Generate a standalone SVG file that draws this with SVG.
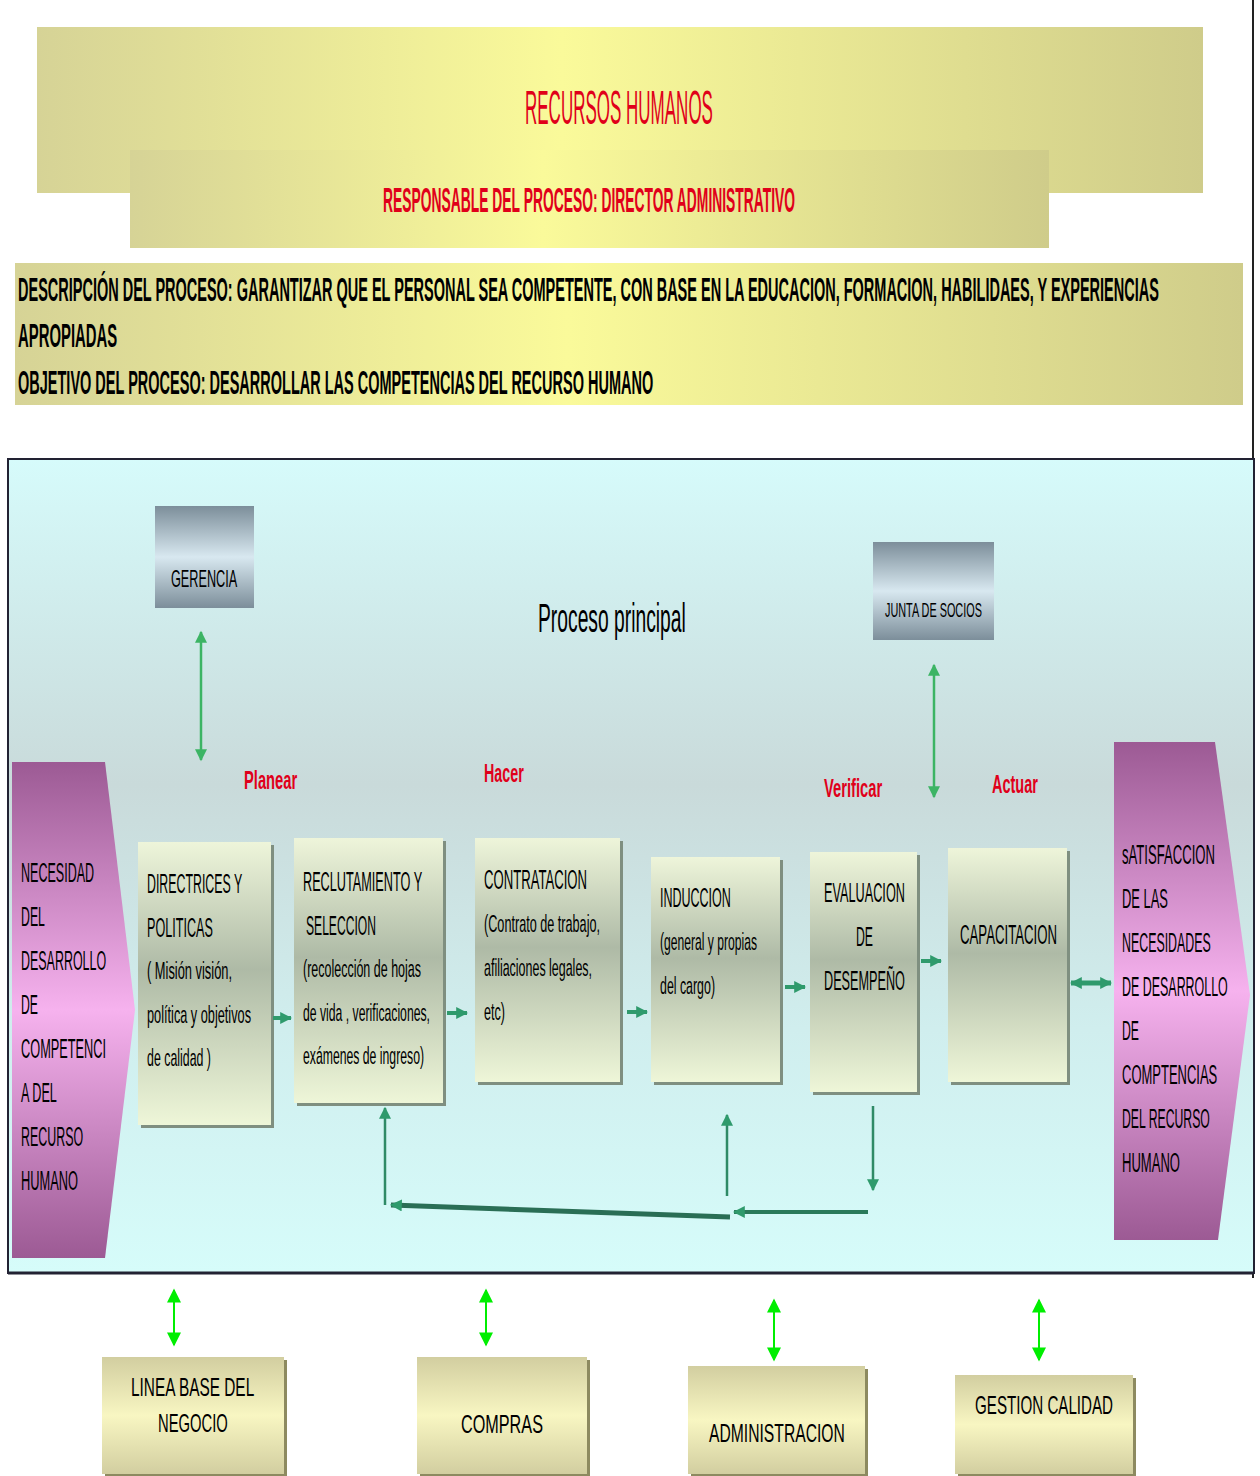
<svg xmlns="http://www.w3.org/2000/svg" width="1260" height="1476" viewBox="0 0 1260 1476">
<style>
.t{font-family:"Liberation Sans",Arial,sans-serif;fill:#000}
.red{fill:#e0001a}
.b{font-weight:bold}
.fb{stroke:#2f8a66;stroke-width:2.5;fill:none}
</style>
<defs>
<linearGradient id="gY" x1="0" y1="0" x2="1" y2="0">
<stop offset="0" stop-color="#d6d396"/><stop offset="0.45" stop-color="#fafa9a"/><stop offset="1" stop-color="#cfcc8a"/>
</linearGradient>
<linearGradient id="gBg" x1="0" y1="0" x2="0" y2="1">
<stop offset="0" stop-color="#d6fbfb"/><stop offset="0.4" stop-color="#c9dada"/><stop offset="0.7" stop-color="#d0eeee"/><stop offset="1" stop-color="#d6fcfa"/>
</linearGradient>
<linearGradient id="gBox" x1="0" y1="0" x2="0" y2="1">
<stop offset="0" stop-color="#eef5da"/><stop offset="0.45" stop-color="#aebaa6"/><stop offset="1" stop-color="#eef6d8"/>
</linearGradient>
<linearGradient id="gGray" x1="0" y1="0" x2="0" y2="1">
<stop offset="0" stop-color="#7c8e9a"/><stop offset="0.5" stop-color="#d8e8f0"/><stop offset="1" stop-color="#7c8e9a"/>
</linearGradient>
<linearGradient id="gOl" x1="0" y1="0" x2="0" y2="1">
<stop offset="0" stop-color="#d2cea0"/><stop offset="0.5" stop-color="#f8f6c2"/><stop offset="1" stop-color="#d2cea0"/>
</linearGradient>
<linearGradient id="gPur" x1="0" y1="0" x2="0" y2="1">
<stop offset="0" stop-color="#9c5a94"/><stop offset="0.5" stop-color="#f6b2ee"/><stop offset="1" stop-color="#9c5a94"/>
</linearGradient>
<marker id="ah" viewBox="0 0 10 10" refX="9" refY="5" markerWidth="12" markerHeight="12" markerUnits="userSpaceOnUse" orient="auto-start-reverse">
<path d="M0,0 L10,5 L0,10 z" fill="#2f9a6c"/>
</marker>
<marker id="ahg" viewBox="0 0 10 10" refX="9" refY="5" markerWidth="14" markerHeight="12" markerUnits="userSpaceOnUse" orient="auto-start-reverse">
<path d="M0,0 L10,5 L0,10 z" fill="#3cb464"/>
</marker>
<marker id="ahl" viewBox="0 0 10 10" refX="9" refY="5" markerWidth="16" markerHeight="14" markerUnits="userSpaceOnUse" orient="auto-start-reverse">
<path d="M0,0 L10,5 L0,10 z" fill="#00ee00"/>
</marker>
</defs>

<rect width="1260" height="1476" fill="#fff"/>
<line x1="1253" y1="0" x2="1253" y2="1278" stroke="#222" stroke-width="2"/>

<g id="header">
<rect x="37" y="27" width="1166" height="166" fill="url(#gY)"/>
<rect x="130" y="150" width="919" height="98" fill="url(#gY)"/>
<text class="t red" transform="translate(525,124) scale(0.35,1)" font-size="48" textLength="537" lengthAdjust="spacingAndGlyphs">RECURSOS HUMANOS</text>
<text class="t red b" transform="translate(383,212) scale(0.375,1)" font-size="36" textLength="1099" lengthAdjust="spacingAndGlyphs">RESPONSABLE DEL PROCESO: DIRECTOR ADMINISTRATIVO</text>
</g>
<g id="descripcion">
<rect x="15" y="263" width="1228" height="142" fill="url(#gY)"/>
<text class="t b" transform="translate(18,301) scale(0.4,1)" font-size="33" textLength="2852" lengthAdjust="spacingAndGlyphs">DESCRIPCIÓN DEL PROCESO:  GARANTIZAR QUE EL PERSONAL SEA COMPETENTE, CON BASE EN LA EDUCACION, FORMACION, HABILIDAES, Y EXPERIENCIAS</text>
<text class="t b" transform="translate(18,347) scale(0.4,1)" font-size="33" textLength="248" lengthAdjust="spacingAndGlyphs">APROPIADAS</text>
<text class="t b" transform="translate(18,394) scale(0.4,1)" font-size="33" textLength="1588" lengthAdjust="spacingAndGlyphs">OBJETIVO DEL  PROCESO:  DESARROLLAR LAS COMPETENCIAS DEL RECURSO HUMANO</text>
</g>

<rect x="8" y="459" width="1246" height="814" fill="url(#gBg)" stroke="#223" stroke-width="2"/>
<line x1="8" y1="1273" x2="1254" y2="1273" stroke="#223" stroke-width="3"/>

<text class="t" transform="translate(538,632) scale(0.48,1)" font-size="40" textLength="308" lengthAdjust="spacingAndGlyphs">Proceso principal</text>
<text class="t red b" transform="translate(244,789) scale(0.56,1)" font-size="26" textLength="95" lengthAdjust="spacingAndGlyphs">Planear</text>
<text class="t red b" transform="translate(484,782) scale(0.56,1)" font-size="26" textLength="71" lengthAdjust="spacingAndGlyphs">Hacer</text>
<text class="t red b" transform="translate(824,797) scale(0.56,1)" font-size="26" textLength="104" lengthAdjust="spacingAndGlyphs">Verificar</text>
<text class="t red b" transform="translate(992,793) scale(0.56,1)" font-size="26" textLength="82" lengthAdjust="spacingAndGlyphs">Actuar</text>

<g id="gerencia">
<rect x="155" y="506" width="99" height="102" fill="url(#gGray)"/>
<text class="t" transform="translate(171,587) scale(0.53,1)" font-size="24" textLength="125" lengthAdjust="spacingAndGlyphs">GERENCIA</text>
</g>
<g id="junta">
<rect x="873" y="542" width="121" height="98" fill="url(#gGray)"/>
<text class="t" transform="translate(885,617) scale(0.51,1)" font-size="20" textLength="190" lengthAdjust="spacingAndGlyphs">JUNTA DE SOCIOS</text>
</g>

<g id="necesidad">
<path d="M12,762 L105,762 L135,1010 L105,1258 L12,1258 Z" fill="url(#gPur)"/>
<g class="t" font-size="27">
<text transform="translate(21,882) scale(0.46,1)" textLength="159" lengthAdjust="spacingAndGlyphs">NECESIDAD</text>
<text transform="translate(21,926) scale(0.46,1)" textLength="52" lengthAdjust="spacingAndGlyphs">DEL</text>
<text transform="translate(21,970) scale(0.46,1)" textLength="185" lengthAdjust="spacingAndGlyphs">DESARROLLO</text>
<text transform="translate(21,1014) scale(0.46,1)" textLength="37" lengthAdjust="spacingAndGlyphs">DE</text>
<text transform="translate(21,1058) scale(0.46,1)" textLength="185" lengthAdjust="spacingAndGlyphs">COMPETENCI</text>
<text transform="translate(21,1102) scale(0.46,1)" textLength="78" lengthAdjust="spacingAndGlyphs">A DEL</text>
<text transform="translate(21,1146) scale(0.46,1)" textLength="135" lengthAdjust="spacingAndGlyphs">RECURSO</text>
<text transform="translate(21,1190) scale(0.46,1)" textLength="124" lengthAdjust="spacingAndGlyphs">HUMANO</text>
</g>
</g>

<g id="satisfaccion">
<path d="M1114,742 L1215,742 L1250,995 L1218,1240 L1114,1240 Z" fill="url(#gPur)"/>
<g class="t" font-size="27">
<text transform="translate(1122,864) scale(0.46,1)" textLength="202" lengthAdjust="spacingAndGlyphs">sATISFACCION</text>
<text transform="translate(1122,908) scale(0.46,1)" textLength="100" lengthAdjust="spacingAndGlyphs">DE LAS</text>
<text transform="translate(1122,952) scale(0.46,1)" textLength="193" lengthAdjust="spacingAndGlyphs">NECESIDADES</text>
<text transform="translate(1122,996) scale(0.46,1)" textLength="230" lengthAdjust="spacingAndGlyphs">DE DESARROLLO</text>
<text transform="translate(1122,1040) scale(0.46,1)" textLength="37" lengthAdjust="spacingAndGlyphs">DE</text>
<text transform="translate(1122,1084) scale(0.46,1)" textLength="207" lengthAdjust="spacingAndGlyphs">COMPTENCIAS</text>
<text transform="translate(1122,1128) scale(0.46,1)" textLength="191" lengthAdjust="spacingAndGlyphs">DEL RECURSO</text>
<text transform="translate(1122,1172) scale(0.46,1)" textLength="126" lengthAdjust="spacingAndGlyphs">HUMANO</text>
</g>
</g>

<g id="directrices">
<rect x="141" y="845" width="133" height="283" fill="#7f8f80"/>
<rect x="138" y="842" width="133" height="283" fill="url(#gBox)"/>
<g class="t">
<text transform="translate(147,893) scale(0.46,1)" font-size="27" textLength="207" lengthAdjust="spacingAndGlyphs">DIRECTRICES Y</text>
<text transform="translate(147,937) scale(0.46,1)" font-size="27" textLength="143" lengthAdjust="spacingAndGlyphs">POLITICAS</text>
<text transform="translate(147,979) scale(0.5,1)" font-size="24" textLength="170" lengthAdjust="spacingAndGlyphs">( Misión visión,</text>
<text transform="translate(147,1023) scale(0.5,1)" font-size="24" textLength="208" lengthAdjust="spacingAndGlyphs">política y objetivos</text>
<text transform="translate(147,1066) scale(0.5,1)" font-size="24" textLength="128" lengthAdjust="spacingAndGlyphs">de calidad  )</text>
</g>
</g>

<g id="reclutamiento">
<rect x="297" y="841" width="149" height="265" fill="#7f8f80"/>
<rect x="294" y="838" width="149" height="265" fill="url(#gBox)"/>
<g class="t">
<text transform="translate(303,891) scale(0.46,1)" font-size="27" textLength="259" lengthAdjust="spacingAndGlyphs">RECLUTAMIENTO Y</text>
<text transform="translate(306,935) scale(0.46,1)" font-size="27" textLength="152" lengthAdjust="spacingAndGlyphs">SELECCION</text>
<text transform="translate(303,977) scale(0.5,1)" font-size="24" textLength="236" lengthAdjust="spacingAndGlyphs">(recolección de hojas</text>
<text transform="translate(303,1021) scale(0.5,1)" font-size="24" textLength="254" lengthAdjust="spacingAndGlyphs">de vida , verificaciones,</text>
<text transform="translate(303,1064) scale(0.5,1)" font-size="24" textLength="242" lengthAdjust="spacingAndGlyphs">exámenes de ingreso)</text>
</g>
</g>

<g id="contratacion">
<rect x="478" y="841" width="145" height="244" fill="#7f8f80"/>
<rect x="475" y="838" width="145" height="244" fill="url(#gBox)"/>
<g class="t">
<text transform="translate(484,889) scale(0.46,1)" font-size="27" textLength="224" lengthAdjust="spacingAndGlyphs">CONTRATACION</text>
<text transform="translate(484,932) scale(0.5,1)" font-size="24" textLength="232" lengthAdjust="spacingAndGlyphs">(Contrato de trabajo,</text>
<text transform="translate(484,976) scale(0.5,1)" font-size="24" textLength="216" lengthAdjust="spacingAndGlyphs">afiliaciones legales,</text>
<text transform="translate(484,1020) scale(0.5,1)" font-size="24" textLength="42" lengthAdjust="spacingAndGlyphs">etc)</text>
</g>
</g>

<g id="induccion">
<rect x="654" y="860" width="129" height="225" fill="#7f8f80"/>
<rect x="651" y="857" width="129" height="225" fill="url(#gBox)"/>
<g class="t">
<text transform="translate(660,907) scale(0.46,1)" font-size="27" textLength="154" lengthAdjust="spacingAndGlyphs">INDUCCION</text>
<text transform="translate(660,950) scale(0.5,1)" font-size="24" textLength="194" lengthAdjust="spacingAndGlyphs">(general y propias</text>
<text transform="translate(660,994) scale(0.5,1)" font-size="24" textLength="110" lengthAdjust="spacingAndGlyphs">del cargo)</text>
</g>
</g>

<g id="evaluacion">
<rect x="813" y="855" width="107" height="240" fill="#7f8f80"/>
<rect x="810" y="852" width="107" height="240" fill="url(#gBox)"/>
<g class="t" font-size="27">
<text transform="translate(824,902) scale(0.46,1)" textLength="176" lengthAdjust="spacingAndGlyphs">EVALUACION</text>
<text transform="translate(856,946) scale(0.46,1)" textLength="37" lengthAdjust="spacingAndGlyphs">DE</text>
<text transform="translate(824,990) scale(0.46,1)" textLength="176" lengthAdjust="spacingAndGlyphs">DESEMPEÑO</text>
</g>
</g>

<g id="capacitacion">
<rect x="951" y="851" width="119" height="234" fill="#7f8f80"/>
<rect x="948" y="848" width="119" height="234" fill="url(#gBox)"/>
<text class="t" transform="translate(960,944) scale(0.46,1)" font-size="27" textLength="211" lengthAdjust="spacingAndGlyphs">CAPACITACION</text>
</g>

<g id="linea">
<rect x="105" y="1360" width="182" height="116" fill="#8d8a60"/>
<rect x="102" y="1357" width="182" height="117" fill="url(#gOl)"/>
<text class="t" transform="translate(131,1396) scale(0.55,1)" font-size="26" textLength="224" lengthAdjust="spacingAndGlyphs">LINEA BASE DEL</text>
<text class="t" transform="translate(158,1432) scale(0.55,1)" font-size="26" textLength="127" lengthAdjust="spacingAndGlyphs">NEGOCIO</text>
</g>
<g id="compras">
<rect x="420" y="1360" width="170" height="116" fill="#8d8a60"/>
<rect x="417" y="1357" width="170" height="117" fill="url(#gOl)"/>
<text class="t" transform="translate(461,1433) scale(0.55,1)" font-size="26" textLength="149" lengthAdjust="spacingAndGlyphs">COMPRAS</text>
</g>
<g id="administracion">
<rect x="691" y="1369" width="177" height="107" fill="#8d8a60"/>
<rect x="688" y="1366" width="177" height="108" fill="url(#gOl)"/>
<text class="t" transform="translate(709,1442) scale(0.55,1)" font-size="26" textLength="247" lengthAdjust="spacingAndGlyphs">ADMINISTRACION</text>
</g>
<g id="gestion">
<rect x="958" y="1378" width="178" height="98" fill="#8d8a60"/>
<rect x="955" y="1375" width="178" height="99" fill="url(#gOl)"/>
<text class="t" transform="translate(975,1414) scale(0.55,1)" font-size="26" textLength="251" lengthAdjust="spacingAndGlyphs">GESTION CALIDAD</text>
</g>

<g id="connectors">
<line x1="201" y1="632" x2="201" y2="760" stroke="#3cb464" stroke-width="2.5" marker-start="url(#ahg)" marker-end="url(#ahg)"/>
<line x1="934" y1="665" x2="934" y2="797" stroke="#3cb464" stroke-width="2.5" marker-start="url(#ahg)" marker-end="url(#ahg)"/>
<line x1="273" y1="1018" x2="291" y2="1018" stroke="#2f9a6c" stroke-width="4" marker-end="url(#ah)"/>
<line x1="447" y1="1013" x2="467" y2="1013" stroke="#2f9a6c" stroke-width="4" marker-end="url(#ah)"/>
<line x1="627" y1="1012" x2="647" y2="1012" stroke="#2f9a6c" stroke-width="4" marker-end="url(#ah)"/>
<line x1="785" y1="987" x2="805" y2="987" stroke="#2f9a6c" stroke-width="4" marker-end="url(#ah)"/>
<line x1="921" y1="961" x2="941" y2="961" stroke="#2f9a6c" stroke-width="4" marker-end="url(#ah)"/>
<line x1="1071" y1="983" x2="1111" y2="983" stroke="#2f9a6c" stroke-width="5" marker-start="url(#ah)" marker-end="url(#ah)"/>
<line x1="873" y1="1106" x2="873" y2="1190" class="fb" marker-end="url(#ah)"/>
<line x1="868" y1="1212" x2="734" y2="1212" stroke="#2a7a5a" stroke-width="4" marker-end="url(#ah)"/>
<line x1="727" y1="1196" x2="727" y2="1115" class="fb" marker-end="url(#ah)"/>
<line x1="730" y1="1217" x2="391" y2="1205" stroke="#2a6e55" stroke-width="5" marker-end="url(#ah)"/>
<line x1="385" y1="1205" x2="385" y2="1108" class="fb" marker-end="url(#ah)"/>
<line x1="174" y1="1290" x2="174" y2="1345" stroke="#00ee00" stroke-width="2" marker-start="url(#ahl)" marker-end="url(#ahl)"/>
<line x1="486" y1="1290" x2="486" y2="1345" stroke="#00ee00" stroke-width="2" marker-start="url(#ahl)" marker-end="url(#ahl)"/>
<line x1="774" y1="1300" x2="774" y2="1360" stroke="#00ee00" stroke-width="2" marker-start="url(#ahl)" marker-end="url(#ahl)"/>
<line x1="1039" y1="1300" x2="1039" y2="1360" stroke="#00ee00" stroke-width="2" marker-start="url(#ahl)" marker-end="url(#ahl)"/>
</g>
</svg>
